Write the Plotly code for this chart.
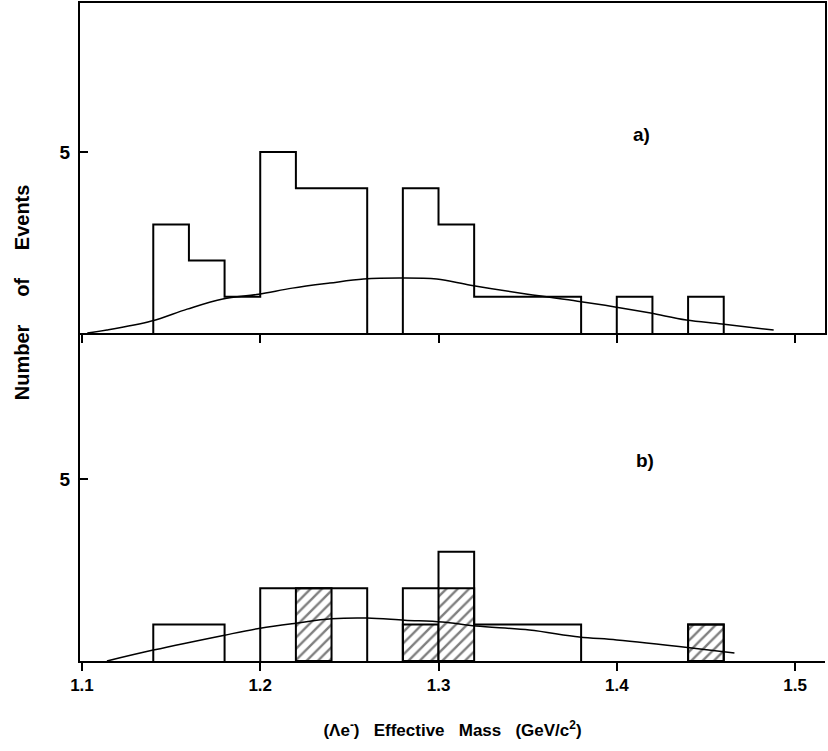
import plotly.graph_objects as go

# Bin lower edges (GeV/c^2), bin width 0.02
bin_low = [1.14, 1.16, 1.18, 1.20, 1.22, 1.24, 1.26, 1.28,
           1.30, 1.32, 1.34, 1.36, 1.38, 1.40, 1.42, 1.44]
bin_width = 0.02

# a) all events
counts_a = [3, 2, 1, 5, 4, 4, 0, 4, 3, 1, 1, 1, 0, 1, 0, 1]
# b) selected events (open) and shaded subset
counts_b = [1, 1, 0, 2, 2, 2, 0, 2, 3, 1, 1, 1, 0, 0, 0, 1]
shaded_x = [1.22, 1.28, 1.30, 1.44]
shaded_n = [2, 1, 2, 1]

# phase-space curves
curve_a_x = [1.103, 1.114, 1.139, 1.159, 1.179, 1.199, 1.218, 1.239, 1.258, 1.278,
             1.299, 1.318, 1.350, 1.378, 1.399, 1.419, 1.439, 1.459, 1.488]
curve_a_y = [0.0, 0.08, 0.33, 0.66, 0.94, 1.07, 1.24, 1.38, 1.49, 1.52,
             1.49, 1.32, 1.07, 0.88, 0.72, 0.55, 0.36, 0.25, 0.08]
curve_b_x = [1.114, 1.140, 1.180, 1.200, 1.220, 1.240, 1.260, 1.281, 1.302,
             1.321, 1.351, 1.379, 1.400, 1.442, 1.466]
curve_b_y = [0.0, 0.30, 0.71, 0.90, 1.04, 1.16, 1.18, 1.12, 1.07,
             0.96, 0.85, 0.66, 0.58, 0.36, 0.22]

x_ticks = [1.1, 1.2, 1.3, 1.4, 1.5]
x_ticklabels = ["1.1", "1.2", "1.3", "1.4", "1.5"]
y_ticks = [5]

FONT = "Liberation Sans, Arial, sans-serif"


def step_outline(lows, width, counts):
    """Outline of a histogram; runs of empty bins are left to the axis line."""
    xs, ys = [], []
    i, n = 0, len(counts)
    while i < n:
        if counts[i] == 0:
            i += 1
            continue
        start = lows[i]
        xs += [start]
        ys += [0]
        while i < n and counts[i] != 0:
            xs.append(lows[i])
            ys.append(counts[i])
            i += 1
        end = lows[i - 1] + width
        xs += [end, None]
        ys += [0, None]
    return xs, ys


fig = go.Figure()

xa, ya = step_outline(bin_low, bin_width, counts_a)
fig.add_trace(go.Scatter(x=xa, y=ya, mode="lines", connectgaps=False,
                         line=dict(shape="hv", color="black", width=2),
                         xaxis="x", yaxis="y", showlegend=False))
fig.add_trace(go.Scatter(x=curve_a_x, y=curve_a_y, mode="lines",
                         line=dict(shape="spline", color="black", width=1.5),
                         xaxis="x", yaxis="y", showlegend=False))

fig.add_trace(go.Bar(x=[v + bin_width / 2 for v in shaded_x], y=shaded_n, width=bin_width,
                     marker=dict(color="white", line=dict(color="black", width=2),
                                 pattern=dict(shape="/", fgcolor="black", bgcolor="white",
                                              size=8, solidity=0.3)),
                     xaxis="x2", yaxis="y2", showlegend=False))
xb, yb = step_outline(bin_low, bin_width, counts_b)
fig.add_trace(go.Scatter(x=xb, y=yb, mode="lines", connectgaps=False,
                         line=dict(shape="hv", color="black", width=2),
                         xaxis="x2", yaxis="y2", showlegend=False))
fig.add_trace(go.Scatter(x=curve_b_x, y=curve_b_y, mode="lines",
                         line=dict(shape="spline", color="black", width=1.5),
                         xaxis="x2", yaxis="y2", showlegend=False))

x_range = [1.0989, 1.5168]
split = 0.4985

fig.update_layout(
    width=828, height=751,
    margin=dict(l=80, r=2, t=1, b=90),
    paper_bgcolor="white", plot_bgcolor="white",
    font=dict(family=FONT, color="black", size=16),
    barmode="overlay",
    xaxis=dict(domain=[0, 1], anchor="y", range=x_range, tickvals=x_ticks, showticklabels=False,
               ticks="outside", ticklen=8, tickwidth=2, tickcolor="black",
               showline=True, linecolor="black", linewidth=2, mirror=True,
               showgrid=False, zeroline=False),
    yaxis=dict(domain=[split, 1], anchor="x", range=[0, 9.12], tickvals=y_ticks,
               ticks="inside", ticklen=8, tickwidth=2, tickcolor="black",
               tickfont=dict(size=19, family=FONT, weight="bold"), ticklabelstandoff=4,
               showline=True, linecolor="black", linewidth=2, mirror=True,
               showgrid=False, zeroline=False),
    xaxis2=dict(domain=[0, 1], anchor="y2", range=x_range, tickvals=x_ticks, ticktext=x_ticklabels,
                ticks="outside", ticklen=8, tickwidth=2, tickcolor="black",
                tickfont=dict(size=17, family=FONT, weight="bold"),
                showline=True, linecolor="black", linewidth=2,
                showgrid=False, zeroline=False,
                title=dict(text="<b>(Λe<sup>-</sup>)&nbsp;&nbsp;&nbsp;Effective&nbsp;&nbsp;&nbsp;Mass&nbsp;&nbsp;&nbsp;(GeV/c<sup>2</sup>)</b>",
                           font=dict(size=17, family=FONT), standoff=30)),
    yaxis2=dict(domain=[0, split], anchor="x2", range=[0, 9.01], tickvals=y_ticks,
                ticks="inside", ticklen=8, tickwidth=2, tickcolor="black",
                tickfont=dict(size=19, family=FONT, weight="bold"), ticklabelstandoff=4,
                showline=True, linecolor="black", linewidth=2,
                showgrid=False, zeroline=False),
    annotations=[
        dict(text="<b>a)</b>", x=1.414, y=5.48, xref="x", yref="y", showarrow=False,
             font=dict(size=19, family=FONT)),
        dict(text="<b>b)</b>", x=1.416, y=5.5, xref="x2", yref="y2", showarrow=False,
             font=dict(size=19, family=FONT)),
        dict(text="<b>Number&nbsp;&nbsp;&nbsp;&nbsp;&nbsp;of&nbsp;&nbsp;&nbsp;&nbsp;&nbsp;Events</b>",
             x=(22 - 80) / 746, y=(661 - 291) / 660,
             xref="paper", yref="paper", xanchor="center", yanchor="middle",
             showarrow=False, textangle=-90,
             font=dict(size=20, family=FONT)),
    ],
)

fig.write_html("out.html")
